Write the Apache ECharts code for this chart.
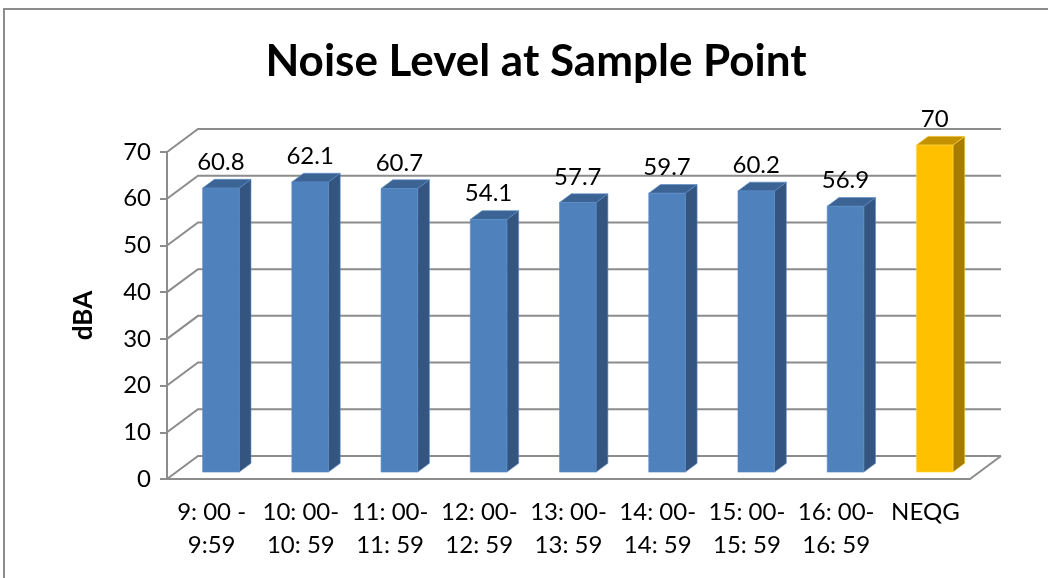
<!DOCTYPE html>
<html>
<head>
<meta charset="utf-8">
<script src="https://cdn.jsdelivr.net/npm/echarts@6/dist/echarts.min.js"></script>
<style>
html,body{margin:0;padding:0;background:#fff;}
#chart{width:1048px;height:578px;}
</style>
</head>
<body>
<div id="chart"></div>
<script>
// ---- data ----
const categories = ['9: 00 -\n9:59', '10: 00-\n10: 59', '11: 00-\n11: 59', '12: 00-\n12: 59',
  '13: 00-\n13: 59', '14: 00-\n14: 59', '15: 00-\n15: 59', '16: 00-\n16: 59', 'NEQG'];
const values = [60.8, 62.1, 60.7, 54.1, 57.7, 59.7, 60.2, 56.9, 70];
const yTicks = [0, 10, 20, 30, 40, 50, 60, 70];
const standardCategory = 'NEQG';

// ---- style / geometry ----
const FONT = 'Lato, "Open Sans", sans-serif';
const DX = 31, DY = -23;          // depth vector of the back wall
const F1 = 0.30, F2 = 0.68;       // bar front / back depth fractions
const GRID_COLOR = '#8c8c8c';
const BLUE = { front: '#4f81bd', side: '#34557f', top: '#3b6394', edge: '#5b8cc6' };
const GOLD = { front: '#ffc000', side: '#a67c00', top: '#c49200', edge: '#ffd34d' };

const chart = echarts.init(document.getElementById('chart'), null, { renderer: 'canvas' });

function gridRender(params, api) {
  const cs = params.coordSys;
  const v = api.value(1);
  const py = api.coord([0, v])[1];
  const x0 = cs.x, W = cs.width;
  const children = [{
    type: 'polyline',
    shape: { points: [[x0, py], [x0 + DX, py + DY], [x0 + W + DX, py + DY]] },
    style: { stroke: GRID_COLOR, lineWidth: 2, fill: null }
  }];
  if (v === 0) {
    children.push({
      type: 'line',
      shape: { x1: x0 + W, y1: py, x2: x0 + W + DX, y2: py + DY },
      style: { stroke: GRID_COLOR, lineWidth: 2 }
    });
  }
  return { type: 'group', children };
}

function barRender(params, api) {
  const i = api.value(0), v = api.value(1);
  const top = api.coord([i, v]);
  const base = api.coord([i, 0]);
  const band = api.size([1, 0])[0];
  const w = band * 0.41;
  const c = categories[i] === standardCategory ? GOLD : BLUE;
  const fx = DX * F1, fy = DY * F1;
  const bx = DX * F2, by = DY * F2;
  const xl = top[0] - w / 2 + fx, xr = top[0] + w / 2 + fx;
  const yt = top[1] + fy, yb = base[1] + fy;
  const sdx = bx - fx, sdy = by - fy;
  return {
    type: 'group',
    children: [
      { type: 'polygon',
        shape: { points: [[xr, yt], [xr + sdx, yt + sdy], [xr + sdx, yb + sdy], [xr, yb]] },
        style: { fill: c.side, stroke: c.edge, lineWidth: 0.6 } },
      { type: 'polygon',
        shape: { points: [[xl, yt], [xl + sdx, yt + sdy], [xr + sdx, yt + sdy], [xr, yt]] },
        style: { fill: c.top, stroke: c.edge, lineWidth: 0.6 } },
      { type: 'rect',
        shape: { x: xl, y: yt, width: w, height: yb - yt },
        style: { fill: c.front, stroke: c.edge, lineWidth: 0.6 } },
      { type: 'text',
        x: top[0] + fx, y: yt + sdy - 17,
        style: { text: String(v), fill: '#000', font: '24px ' + FONT, align: 'center', verticalAlign: 'middle' } }
    ]
  };
}

const option = {
  backgroundColor: '#fff',
  animation: false,
  title: {
    text: 'Noise Level at Sample Point',
    left: 531, top: 35, textAlign: 'center',
    textStyle: { fontFamily: FONT, fontWeight: 'bold', fontSize: 44, color: '#000' }
  },
  graphic: [{
    type: 'rect', z: -10, silent: true,
    shape: { x: 4, y: 9, width: 1200, height: 800 },
    style: { fill: null, stroke: '#8c8c8c', lineWidth: 2 }
  }],
  grid: { left: 167, right: 78, top: 152, bottom: 99, containLabel: false },
  xAxis: {
    type: 'category',
    data: categories,
    axisLine: { show: true, lineStyle: { color: GRID_COLOR, width: 2 } },
    axisTick: { show: false },
    splitLine: { show: false },
    axisLabel: { interval: 0, fontFamily: FONT, fontSize: 24, lineHeight: 33, color: '#000', margin: 17 }
  },
  yAxis: {
    type: 'value',
    min: 0, max: 70, interval: 10,
    name: 'dBA',
    nameLocation: 'middle',
    nameGap: 70,
    nameRotate: 90,
    nameTextStyle: { fontFamily: FONT, fontWeight: 'bold', fontSize: 26, color: '#000' },
    axisLine: { show: true, lineStyle: { color: GRID_COLOR, width: 2 } },
    axisTick: { show: true, length: 7, lineStyle: { color: GRID_COLOR, width: 2 } },
    splitLine: { show: false },
    axisLabel: {
      fontFamily: FONT, fontSize: 24, color: '#000', margin: 16,
      formatter: v => yTicks.includes(v) ? String(v) : ''
    }
  },
  series: [
    { type: 'custom', name: 'grid', z: 1, clip: false, silent: true,
      renderItem: gridRender, data: yTicks.map(v => [0, v]) },
    { type: 'custom', name: 'Noise', z: 2, clip: false,
      renderItem: barRender, data: values.map((v, i) => [i, v]) }
  ]
};
chart.setOption(option);
</script>
</body>
</html>
